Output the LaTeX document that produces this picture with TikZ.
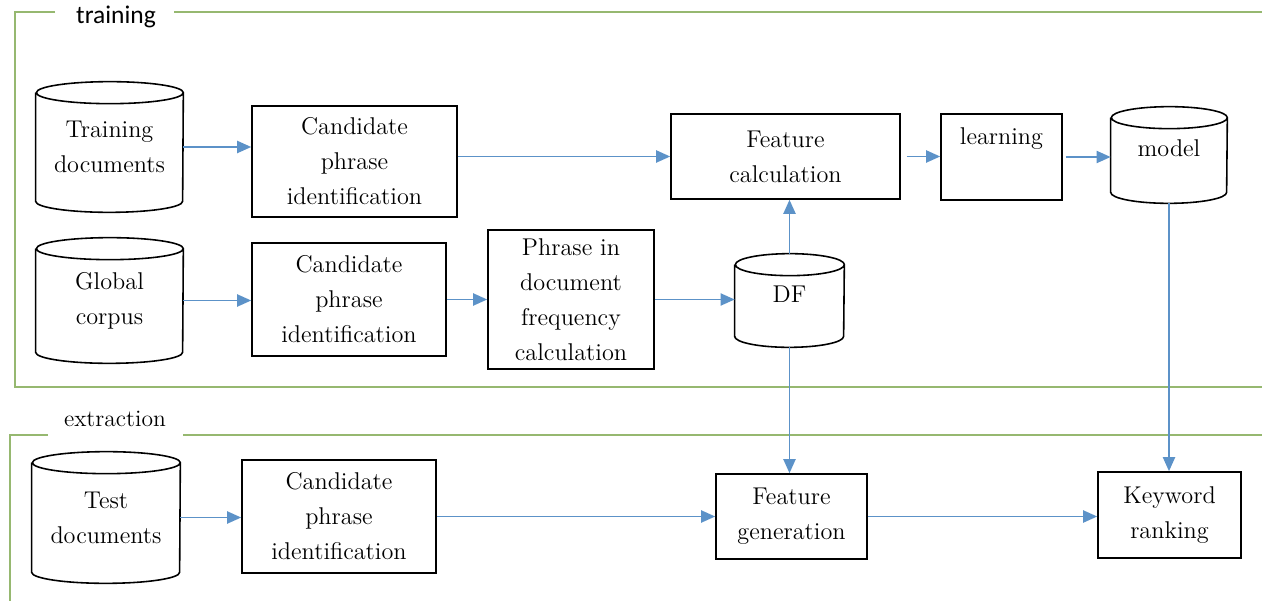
\documentclass[tikz,border=0pt]{standalone}
\usepackage{fontspec}
\newfontfamily\labelfont{Carlito}
\usetikzlibrary{arrows.meta}

\definecolor{pfeilblau}{RGB}{92,146,200}
\definecolor{rahmengruen}{RGB}{150,184,112}

\tikzset{
  kasten/.style={draw, line width=0.9pt, align=center, inner sep=0pt,
    font=\rmfamily\fontsize{13.8}{19.9}\selectfont},
  trommel/.style={align=center, inner sep=0pt,
    font=\rmfamily\fontsize{13.8}{19.9}\selectfont},
  fluss/.style={pfeilblau, line width=1.1pt, -{Triangle[length=0.28cm,width=0.24cm]}},
  rahmen/.style={rahmengruen, line width=0.7pt},
}

% Zylinder um einen Knoten: #1 Name, #2 x-Radius
\newcommand{\trommelrand}[2]{%
  \draw[line width=0.9pt] ([yshift=-0.22cm]#1.north west) -- ([yshift=0.22cm]#1.south west)
    arc[start angle=180, end angle=360, x radius=#2, y radius=0.22cm]
    -- ([yshift=-0.22cm]#1.north east)
    arc[start angle=0, end angle=360, x radius=#2, y radius=0.22cm];
}

\begin{document}
\begin{tikzpicture}[x=0.02cm, y=-0.02cm]
    \useasboundingbox (0,0) rectangle (1262,601);

    % Rahmen training
    \draw[rahmen] (55,12) -- (15,12) -- (15,387) -- (1262,387);
    \draw[rahmen] (174,12) -- (1262,12);
    \node[font=\labelfont\fontsize{14.5}{17}\selectfont, inner sep=0pt] (lblTraining) at (116,17) {training};

    % Rahmen extraction
    \draw[rahmen] (48,435) -- (10,435) -- (10,601);
    \draw[rahmen] (183,435) -- (1262,435);
    \node[font=\rmfamily\fontsize{13.4}{17}\selectfont, inner sep=0pt] (lblExtraction) at (115,419) {extraction};

    % Training - obere Reihe
    \node[trommel, minimum width=2.94cm, minimum height=2.6cm] (trainDocs) at (109.5,147) {Training\\documents};
    \trommelrand{trainDocs}{1.47cm}
    \node[kasten, minimum width=4.1cm, minimum height=2.22cm] (cand1) at (354.5,161.5) {Candidate\\phrase\\identification};
    \node[kasten, minimum width=4.58cm, minimum height=1.7cm] (featCalc) at (785.5,156.5) {Feature\\calculation};
    \node[kasten, minimum width=2.42cm, minimum height=1.72cm, text height=0.4cm, text depth=0.9cm] (learning) at (1001.5,157) {learning};
    \node[trommel, minimum width=2.32cm, minimum height=1.92cm, text height=0.4cm, text depth=0.32cm] (model) at (1169,155) {model};
    \trommelrand{model}{1.16cm}

    % Training - untere Reihe
    \node[trommel, minimum width=2.94cm, minimum height=2.5cm] (globCorpus) at (109.5,300.5) {Global\\corpus};
    \trommelrand{globCorpus}{1.47cm}
    \node[kasten, minimum width=3.88cm, minimum height=2.26cm] (cand2) at (349,299.5) {Candidate\\phrase\\identification};
    \node[kasten, minimum width=3.32cm, minimum height=2.78cm] (phrase) at (571,299.5) {Phrase in\\document\\frequency\\calculation};
    \node[trommel, minimum width=2.18cm, minimum height=1.86cm, text height=0.4cm, text depth=0.3cm] (dfStore) at (789.5,300.5) {DF};
    \trommelrand{dfStore}{1.09cm}

    % Extraction
    \node[trommel, minimum width=2.96cm, minimum height=2.62cm] (testDocs) at (106,517.5) {Test\\documents};
    \trommelrand{testDocs}{1.48cm}
    \node[kasten, minimum width=3.88cm, minimum height=2.26cm] (cand3) at (339,516.5) {Candidate\\phrase\\identification};
    \node[kasten, minimum width=3.02cm, minimum height=1.7cm] (featGen) at (791.5,516.5) {Feature\\generation};
    \node[kasten, minimum width=2.86cm, minimum height=1.72cm] (keyword) at (1169.5,515) {Keyword\\ranking};

    % Pfeile
    \draw[fluss] (trainDocs.east) -- (trainDocs.east -| cand1.west);
    \draw[fluss] (featCalc.west -| cand1.east) -- (featCalc.west);
    \draw[fluss] ([xshift=0.12cm]featCalc.east) -- (featCalc.east -| learning.west);
    \draw[fluss] ([xshift=0.06cm]learning.east) -- (learning.east -| model.west);
    \draw[fluss] (globCorpus.east) -- (globCorpus.east -| cand2.west);
    \draw[fluss] (cand2.east) -- (cand2.east -| phrase.west);
    \draw[fluss] (phrase.east) -- (phrase.east -| dfStore.west);
    \draw[fluss] (dfStore.north) -- (dfStore.north |- featCalc.south);
    \draw[fluss] (dfStore.south) -- (dfStore.south |- featGen.north);
    \draw[fluss] (model.south) -- (model.south |- keyword.north);
    \draw[fluss] (testDocs.east) -- (testDocs.east -| cand3.west);
    \draw[fluss] (featGen.west -| cand3.east) -- (featGen.west);
    \draw[fluss] (featGen.east) -- (featGen.east -| keyword.west);

\end{tikzpicture}
\end{document}
